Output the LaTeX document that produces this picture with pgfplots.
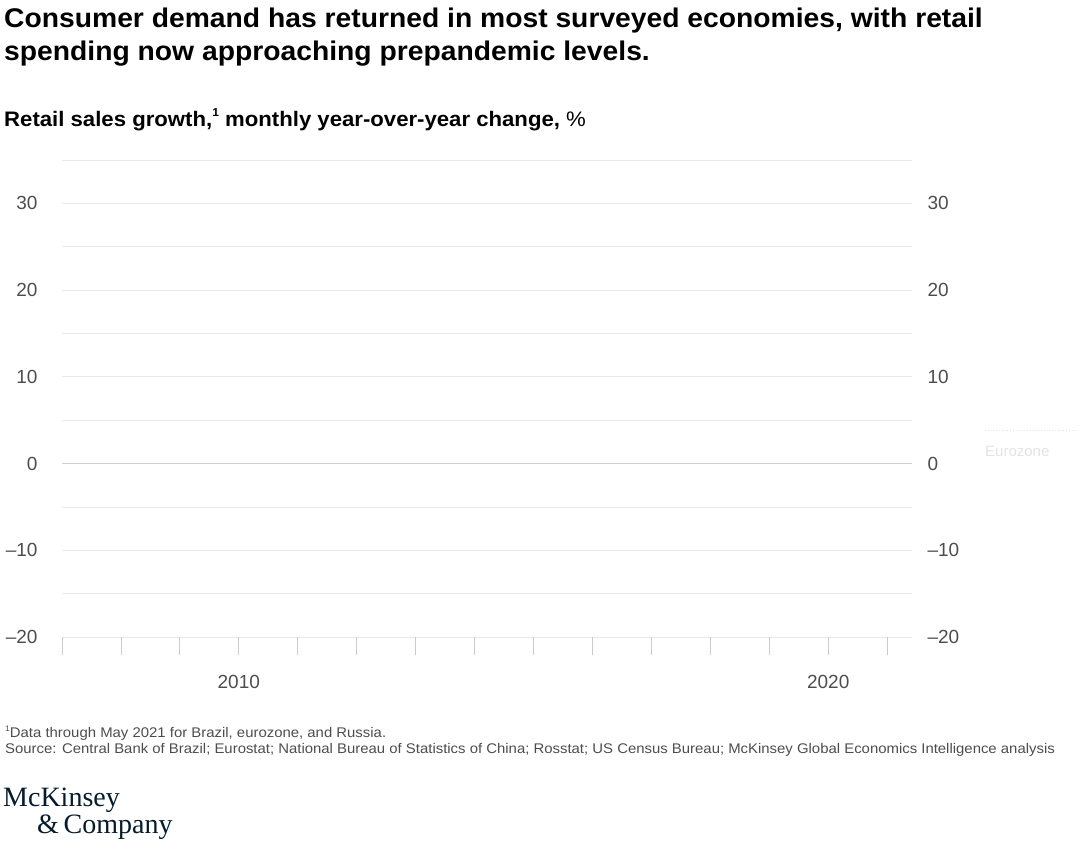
\documentclass[border=0pt]{standalone}
\usepackage{fontspec}
\setmainfont{Liberation Sans}
\newfontfamily\titlefont[FakeStretch=1.047]{Liberation Sans}
\newfontfamily\subfont[FakeStretch=1.055]{Liberation Sans}
\newfontfamily\notefont[FakeStretch=1.065]{Liberation Sans}
\newfontfamily\logofont{Liberation Serif}
\usepackage{pgfplots}
\pgfplotsset{compat=1.18}
\definecolor{labc}{HTML}{4D4D4D}
\definecolor{gridc}{HTML}{E8E8E8}
\definecolor{zeroc}{HTML}{CFCFCF}
\definecolor{tickc}{HTML}{CCCCCC}
\definecolor{navy}{HTML}{051C2C}
\definecolor{faint}{HTML}{E3E3E3}
\newcommand\tickfont{\fontsize{19}{22}\selectfont}
\begin{document}
\begin{tikzpicture}
\path[use as bounding box] (0,0) rectangle (1080pt,-852pt);
% title and subtitle
\node[anchor=base west, inner sep=0pt] at (4pt,-27pt) {\titlefont\fontsize{27}{30}\selectfont\bfseries Consumer demand has returned in most surveyed economies, with retail};
\node[anchor=base west, inner sep=0pt] at (4pt,-60pt) {\titlefont\fontsize{27}{30}\selectfont\bfseries spending now approaching prepandemic levels.};
\node[anchor=base west, inner sep=0pt] at (4pt,-126pt) {\subfont\fontsize{21}{24}\selectfont\bfseries Retail sales growth,\raisebox{0.45em}{\fontsize{11.5}{12}\selectfont 1} monthly year-over-year change, \mdseries\%};
\begin{axis}[
    at={(62pt,-637pt)}, anchor=south west,
    scale only axis, width=850pt, height=477pt,
    xmin=2007, xmax=2021.42, ymin=-20, ymax=35,
    axis line style={draw=none},
    xtick pos=bottom,
    xtick={2007,...,2021},
    xticklabels={,,,2010,,,,,,,,,,2020,},
    ytick={-20,-10,...,30},
    yticklabels={–20,–10,0,10,20,30},
    minor ytick={-15,-5,...,35},
    ymajorgrids, yminorgrids,
    major grid style={draw=gridc, line width=0.8pt},
    minor grid style={draw=gridc, line width=0.8pt},
    extra y ticks={0}, extra y tick labels={},
    extra y tick style={major grid style={draw=zeroc, line width=1.4pt}},
    tick align=outside,
    major tick length=18pt, minor tick length=0pt,
    xtick style={draw=tickc, line width=0.8pt},
    ytick style={draw=none},
    tick label style={font=\tickfont, text=labc},
    xticklabel style={yshift=-17pt},
    yticklabel style={xshift=-3pt},
]
\end{axis}
\begin{axis}[
    at={(62pt,-637pt)}, anchor=south west,
    scale only axis, width=850pt, height=477pt,
    xmin=2007, xmax=2021.42, ymin=-20, ymax=35,
    axis line style={draw=none},
    xtick=\empty,
    ytick={-20,-10,...,30},
    yticklabels={–20,–10,0,10,20,30},
    yticklabel pos=right,
    ytick style={draw=none},
    tick label style={font=\tickfont, text=labc},
    yticklabel style={xshift=12pt},
]
\end{axis}
% faint series label at right
\draw[faint, line width=0.8pt, dotted] (985pt,-430pt) -- (1077pt,-430pt);
\node[anchor=base west, inner sep=0pt, text=faint] at (985pt,-456pt) {\fontsize{15}{18}\selectfont Eurozone};
% notes
\node[anchor=base west, inner sep=0pt, text=labc] at (5pt,-737pt) {\notefont\fontsize{14}{16}\selectfont\raisebox{0.4em}{\fontsize{8}{9}\selectfont 1}Data through May 2021 for Brazil, eurozone, and Russia.};
\node[anchor=base west, inner sep=0pt, text=labc] at (5pt,-753pt) {\notefont\fontsize{14}{16}\selectfont Source: Central Bank of Brazil; Eurostat; National Bureau of Statistics of China; Rosstat; US Census Bureau; McKinsey Global Economics Intelligence analysis};
% logo
\node[anchor=base west, inner sep=0pt, text=navy] at (3pt,-806pt) {\logofont\fontsize{28}{30}\selectfont McKinsey};
\node[anchor=base west, inner sep=0pt, text=navy] at (37pt,-833pt) {\logofont\fontsize{28}{30}\selectfont \&\,Company};
\end{tikzpicture}
\end{document}
